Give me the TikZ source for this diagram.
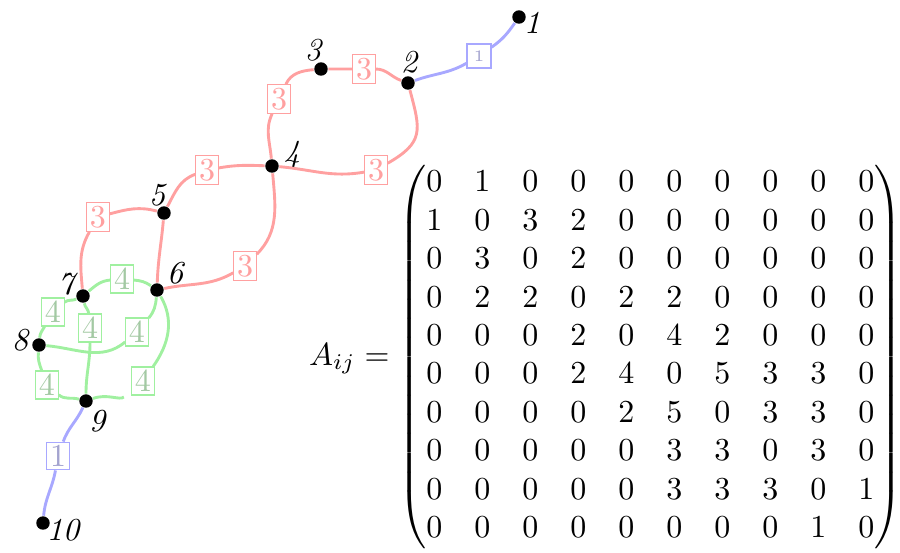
\documentclass[tikz,border=0pt]{standalone}
\usepackage{amsmath}
\definecolor{redline}{HTML}{FFA0A0}
\definecolor{greenline}{HTML}{A0F0A0}
\definecolor{greentext}{HTML}{A3C9A3}
\definecolor{blueline}{HTML}{A8A8FF}
\definecolor{bluetext}{HTML}{A3A3CF}
\tikzset{
  vtx/.style={circle, fill=black, inner sep=0pt, minimum size=4.2pt},
  vlab/.style={font=\itshape, inner sep=0pt},
  wbox/.style={draw, fill=white, inner sep=1pt, line width=0.35pt, minimum height=8pt},
  rbox/.style={wbox, draw=redline, text=redline},
  gbox/.style={wbox, draw=greenline, text=greentext},
  bbox/.style={wbox, draw=blueline, text=bluetext},
  rE/.style={draw=redline, line width=0.9pt},
  gE/.style={draw=greenline, line width=0.9pt},
  bE/.style={draw=blueline, line width=0.9pt},
}
\begin{document}
\begin{tikzpicture}[x=0.3125pt, y=0.3125pt]
\useasboundingbox (0,0) rectangle (900,-552);

% vertices
\node[vtx] (n1) at (519,-17) {};
\node[vtx] (n2) at (408,-83) {};
\node[vtx] (n3) at (321,-69) {};
\node[vtx] (n4) at (272,-166) {};
\node[vtx] (n5) at (164,-213) {};
\node[vtx] (n6) at (157,-290) {};
\node[vtx] (n7) at (83,-296) {};
\node[vtx] (n8) at (39,-345) {};
\node[vtx] (n9) at (86,-401) {};
\node[vtx] (n10) at (43,-523) {};

% vertex numbers
\node[vlab] (t1) at (532,-23) {1};
\node[vlab] (t2) at (409,-62) {2};
\node[vlab] (t3) at (313,-50) {3};
\node[vlab] (t4) at (292,-155) {4};
\node[vlab] (t5) at (157,-195) {5};
\node[vlab] (t6) at (175,-273) {6};
\node[vlab] (t7) at (66,-284) {7};
\node[vlab] (t8) at (20,-340) {8};
\node[vlab] (t9) at (97,-421) {9};
\node[vlab] (t10) at (63,-530) {10};

% edge weights
\node[bbox, font=\tiny, minimum size=7.5pt] (e12) at (479,-56) {1};
\node[rbox] (e23) at (364,-69) {3};
\node[rbox] (e34) at (279,-99) {3};
\node[rbox] (e24) at (376,-170) {3};
\node[rbox] (e45) at (207,-170) {3};
\node[rbox] (e46) at (245,-266) {3};
\node[rbox] (e57) at (98,-217) {3};
\node[gbox] (e67) at (122,-279) {4};
\node[gbox] (e78) at (53,-312) {4};
\node[gbox] (e79) at (90,-328) {4};
\node[gbox] (e68) at (137,-332) {4};
\node[gbox] (e89) at (47,-385) {4};
\node[gbox] (e69) at (143,-381) {4};
\node[bbox] (e910) at (58,-456) {1};

% edges
\draw[bE] (n1) to[out=-125, in=35] (e12) to[out=210, in=20] (n2);
\draw[rE] (n3) to[out=0, in=180] (e23) to[out=0, in=160] (n2);
\draw[rE] (n3) to[out=185, in=65] (e34) to[out=245, in=95] (n4);
\draw[rE] (n2) to[out=-75, in=30, looseness=1.4] (e24) to[out=190, in=-5] (n4);
\draw[rE] (n4) to[out=178, in=10] (e45) to[out=200, in=62] (n5);
\draw[rE] (n4) to[out=-85, in=45] (e46) to[out=210, in=12] (n6);
\draw[rE] (n5) to[out=-95, in=88] (n6);
\draw[rE] (n5) to[out=165, in=15] (e57) to[out=240, in=95] (n7);
\draw[gE] (n7) to[out=40, in=185] (e67) to[out=-5, in=145] (n6);
\draw[gE] (n7) to[out=205, in=40] (e78) to[out=240, in=85] (n8);
\draw[gE] (n7) to[out=-80, in=95] (e79) to[out=-90, in=90] (n9);
\draw[gE] (n6) to[out=-95, in=50] (e68) to[out=220, in=-5] (n8);
\draw[gE] (n8) to[out=-95, in=110] (e89) to[out=-40, in=165] (n9);
\draw[gE, shorten <=3pt] (n6) to[out=-60, in=55] (e69) to[out=220, in=20] (n9);
\draw[bE] (n9) to[out=-115, in=70] (e910) to[out=-100, in=85] (n10);

% adjacency matrix
\node[anchor=east, inner sep=0pt] (mat) at (903,-357) {$A_{ij} = \begin{pmatrix}
0&1&0&0&0&0&0&0&0&0\\
1&0&3&2&0&0&0&0&0&0\\
0&3&0&2&0&0&0&0&0&0\\
0&2&2&0&2&2&0&0&0&0\\
0&0&0&2&0&4&2&0&0&0\\
0&0&0&2&4&0&5&3&3&0\\
0&0&0&0&2&5&0&3&3&0\\
0&0&0&0&0&3&3&0&3&0\\
0&0&0&0&0&3&3&3&0&1\\
0&0&0&0&0&0&0&0&1&0
\end{pmatrix}$};
\end{tikzpicture}
\end{document}
